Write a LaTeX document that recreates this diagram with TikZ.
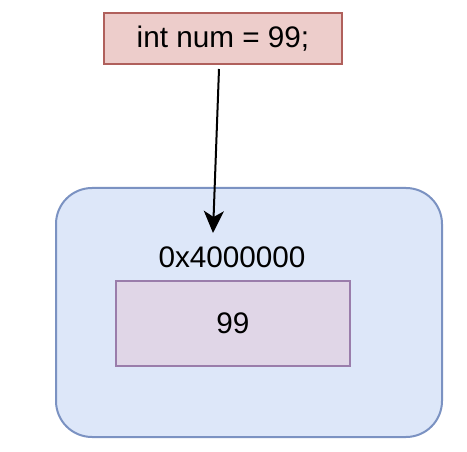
\documentclass[tikz,border=0pt]{standalone}
\usepackage{fontspec}
\setmainfont{Liberation Sans}
\usepackage{tikz}
\usetikzlibrary{arrows.meta}
\definecolor{declfill}{HTML}{EDCDCB}
\definecolor{decldraw}{HTML}{B0605C}
\definecolor{memfill}{HTML}{DDE7F9}
\definecolor{memdraw}{HTML}{7B92C2}
\definecolor{cellfill}{HTML}{E0D6E7}
\definecolor{celldraw}{HTML}{9A7DAB}
\def\fsize{\fontsize{29.7}{34}\selectfont}

\begin{document}
\begin{tikzpicture}[x=1pt, y=-1pt,
  box/.style={draw, line width=2pt, inner sep=0pt, font=\fsize},
  label/.style={inner sep=0pt, font=\fsize}]
\useasboundingbox (0, 0) rectangle (467, 452);
% memory block
\node[box, draw=memdraw, fill=memfill, rounded corners=36pt,
  minimum width=386pt, minimum height=249pt] (mem) at (249, 312.5) {};
% address and stored value
\node[label] (addr) at (232, 257) {0x4000000};
\node[box, draw=celldraw, fill=cellfill,
  minimum width=234pt, minimum height=85pt] (cell) at (233, 323.5) {99};
% declaration
\node[box, draw=decldraw, fill=declfill,
  minimum width=238pt, minimum height=51pt] (decl) at (223, 38.5) {int num = 99;};
% pointer arrow
\coordinate (tail) at (219, 69);
\coordinate (tip) at (213, 233);
\draw[line width=2pt, -{Stealth[length=22pt, width=20pt, inset=6pt]}] (tail) -- (tip);
\end{tikzpicture}
\end{document}
